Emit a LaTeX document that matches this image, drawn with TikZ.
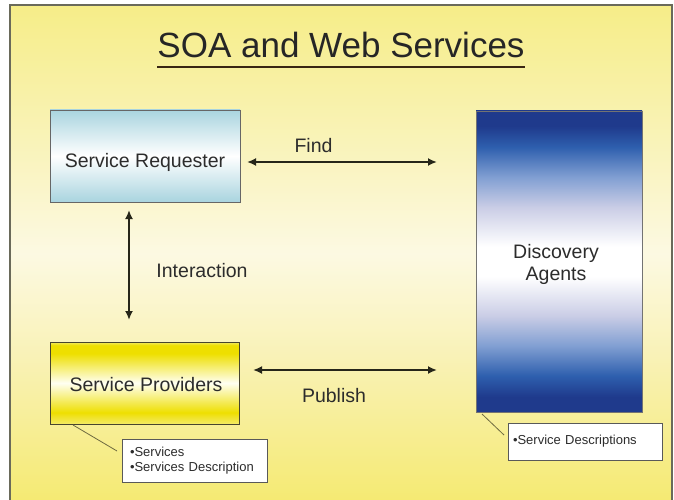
\documentclass[tikz,border=0pt]{standalone}
\usepackage{fontspec}
\setmainfont{Liberation Sans}
\usetikzlibrary{arrows.meta}
\definecolor{bgtop}{HTML}{F6ED88}
\definecolor{bgmid}{HTML}{FCF9E2}
\definecolor{bgmid2}{HTML}{FAF5C8}
\definecolor{bglow}{HTML}{F9F2B8}
\definecolor{bgbot}{HTML}{F5EA72}
\definecolor{dnavy}{HTML}{1F3A8C}
\definecolor{mblue}{HTML}{2E5FAE}
\definecolor{lblue}{HTML}{819FD2}
\definecolor{lav}{HTML}{CACDE6}
\definecolor{ylw}{HTML}{EEDF00}
\definecolor{ylwedge}{HTML}{F3EA66}
\definecolor{ylwmid}{HTML}{FFFFF2}
\definecolor{reqblue}{HTML}{A9D4DF}
\definecolor{txt}{HTML}{2C2C2C}
\definecolor{framec}{HTML}{6A6A5A}
\definecolor{leadc}{HTML}{6E6A40}
\definecolor{arrc}{HTML}{262619}
\pgfdeclareverticalshading{bgshade}{100bp}{color(0bp)=(bgbot); color(25bp)=(bgbot); color(40bp)=(bglow); color(50bp)=(bgmid); color(57bp)=(bgmid2); color(75bp)=(bgtop); color(100bp)=(bgtop)}
\pgfdeclareverticalshading{dashade}{100bp}{color(0bp)=(dnavy); color(25bp)=(dnavy); color(27.5bp)=(dnavy); color(31bp)=(mblue); color(36bp)=(lblue); color(41bp)=(lav); color(47.5bp)=(white); color(52.5bp)=(white); color(59bp)=(lav); color(64bp)=(lblue); color(69bp)=(mblue); color(72.5bp)=(dnavy); color(75bp)=(dnavy); color(100bp)=(dnavy)}
\pgfdeclareverticalshading{spshade}{100bp}{color(0bp)=(ylwedge); color(25bp)=(ylwedge); color(32bp)=(ylw); color(50bp)=(ylwmid); color(68bp)=(ylw); color(73bp)=(ylw); color(75bp)=(ylwedge); color(100bp)=(ylwedge)}
\tikzset{
  box/.style={draw=#1, line width=0.9pt, inner sep=0pt},
  lbl/.style={text=txt, font=\fontsize{19.5}{22}\selectfont, inner sep=0pt},
  callout/.style={draw=#1, line width=0.9pt, fill=white, inner ysep=0pt, font=\fontsize{13}{15}\selectfont, text=txt, align=left},
  dblarrow/.style={line width=2.6pt, draw=arrc, {Latex[length=9pt,width=8pt]}-{Latex[length=9pt,width=8pt]}},
  leader/.style={draw=leadc, line width=0.8pt}
}
\begin{document}
\begin{tikzpicture}[x=1pt,y=-1pt]
\useasboundingbox (0,0) rectangle (674,500);
\fill[white] (0,0) rectangle (674,500);
% background frame
\path[shading=bgshade] (10,5) rectangle (672,502);
\draw[framec, line width=1.5pt] (10,502) -- (10,5) -- (672,5) -- (672,502);
% title
\node[anchor=base, inner sep=0pt, font=\fontsize{35}{40}\selectfont, text=black!85] (title) at (341,58) {SOA and Web Services};
\draw[line width=2pt, draw=black!70!brown] ([yshift=-9pt]title.base west) -- ([yshift=-9pt]title.base east);
% boxes
\node[box=black!60, minimum width=190pt, minimum height=92pt, top color=reqblue, bottom color=reqblue, middle color=white] (sr) at (145,156) {};
\node[lbl, anchor=base] (srt) at ([yshift=-11pt]sr.center) {Service Requester};
\node[box=black!65!olive, minimum width=189pt, minimum height=82pt, shading=spshade] (sp) at (144.5,383) {};
\node[lbl, anchor=base] (spt) at ([xshift=1.5pt,yshift=-8pt]sp.center) {Service Providers};
\node[box=black!55, minimum width=166pt, minimum height=301pt, shading=dashade] (da) at (559,261.5) {};
\node[lbl, align=center] (dat) at ([xshift=-3pt,yshift=-2.5pt]da.center) {Discovery\\Agents};
% callouts
\node[callout=black!65, minimum width=145pt, minimum height=43pt, inner xsep=8pt, text width=129pt] (cb1) at (194.5,460.5) {•Services\\•Services Description};
\node[callout=black!65, minimum width=154pt, minimum height=37pt, inner xsep=5pt, text width=144pt] (cb2) at (585,441.5) {•Service Descriptions};
% leader lines
\coordinate (l1a) at (73,425);
\coordinate (l1b) at (117,451);
\draw[leader] (l1a) -- (l1b);
\coordinate (l2a) at (482,414);
\coordinate (l2b) at (504,435);
\draw[leader] (l2a) -- (l2b);
% arrows
\coordinate (f1) at (247,162);
\coordinate (f2) at (437,162);
\draw[dblarrow] (f1) -- (f2);
\node[lbl, anchor=base] (find) at (313.5,152) {Find};
\coordinate (p1) at (253,370);
\coordinate (p2) at (437,370);
\draw[dblarrow] (p1) -- (p2);
\node[lbl, anchor=base] (pub) at (334,402) {Publish};
\coordinate (i1) at (129,210);
\coordinate (i2) at (129,320);
\draw[dblarrow] (i1) -- (i2);
\node[lbl, anchor=base] (inter) at (202,277) {Interaction};
\end{tikzpicture}
\end{document}
